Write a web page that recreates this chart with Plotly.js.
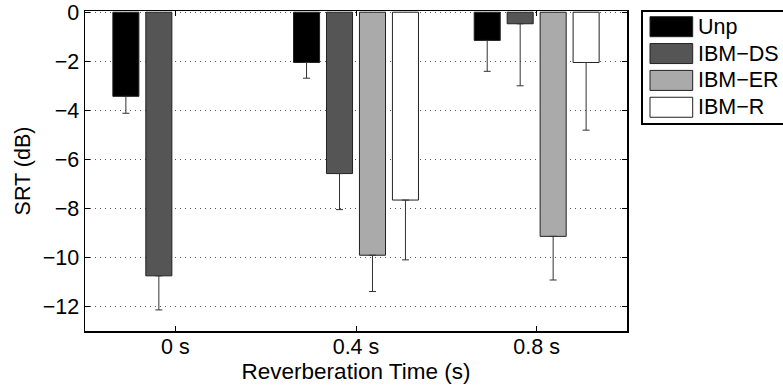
<!DOCTYPE html>
<html>
<head>
<meta charset="utf-8">
<script src="https://cdn.plot.ly/plotly-3.0.1.min.js"></script>
<style>html,body{margin:0;padding:0;background:#fff;}#chart{width:783px;height:388px;}</style>
</head>
<body>
<div id="chart"></div>
<script>
// Data
const categories = ['0 s', '0.4 s', '0.8 s'];
const seriesNames = ['Unp', 'IBM\u2212DS', 'IBM\u2212ER', 'IBM\u2212R'];
const seriesColors = ['#000000', '#555555', '#aaaaaa', '#ffffff'];
const unpValues   = [-3.43, -2.05, -1.15];
const dsValues    = [-10.75, -6.58, -0.47];
const erValues    = [null, -9.91, -9.14];
const rValues     = [null, -7.66, -2.05];
const unpErr = [0.69, 0.64, 1.26];
const dsErr  = [1.39, 1.47, 2.53];
const erErr  = [null, 1.48, 1.78];
const rErr   = [null, 2.44, 2.76];
const yTickVals = [0, -2, -4, -6, -8, -10, -12];

const allValues = [unpValues, dsValues, erValues, rValues];
const allErrs = [unpErr, dsErr, erErr, rErr];

const FONT = 'Liberation Sans, Arial, Helvetica, sans-serif';
const FS = 21.5;

const traces = allValues.map((vals, i) => ({
  type: 'bar',
  name: seriesNames[i],
  x: categories,
  y: vals,
  marker: {color: seriesColors[i], line: {color: '#222222', width: 1}},
  error_y: {
    type: 'data', symmetric: false,
    array: vals.map(v => v === null ? null : 0),
    arrayminus: allErrs[i],
    color: '#333333', thickness: 1, width: 3.5
  },
  showlegend: false
}));

// plot area in pixels -> paper coords helpers for the legend box
const L = 85, R = 627, T = 11, B = 331;
const px = x => (x - L) / (R - L);
const py = y => (B - y) / (B - T);

const shapes = [{
  type: 'rect', xref: 'paper', yref: 'paper',
  x0: px(642), x1: px(800), y0: py(11), y1: py(124),
  line: {color: '#000', width: 2}, fillcolor: '#fff', layer: 'above'
}];
const annotations = [];
seriesNames.forEach((n, i) => {
  const cy = 26.7 + 26.85 * i;
  shapes.push({
    type: 'rect', xref: 'paper', yref: 'paper',
    x0: px(650), x1: px(692.7), y0: py(cy - 10), y1: py(cy + 10),
    line: {color: '#222', width: 1}, fillcolor: seriesColors[i], layer: 'above'
  });
  annotations.push({
    xref: 'paper', yref: 'paper', x: px(695.5), y: py(cy),
    xanchor: 'left', yanchor: 'middle', text: n, showarrow: false,
    font: {family: FONT, size: FS, color: '#000'}
  });
});

const layout = {
  width: 783, height: 388,
  margin: {l: L, r: 783 - R, t: T, b: 388 - B},
  paper_bgcolor: '#fff', plot_bgcolor: '#fff',
  barmode: 'group', bargap: 0.27, bargroupgap: 0.21,
  font: {family: FONT, size: FS, color: '#000'},
  xaxis: {
    type: 'category', range: [-0.5, 2.5],
    showline: true, linecolor: '#000', linewidth: 1.5, mirror: 'ticks',
    ticks: 'inside', ticklen: 5, tickcolor: '#000',
    showgrid: false, zeroline: false, ticklabelstandoff: -4,
    tickfont: {family: FONT, size: FS},
    title: {text: 'Reverberation Time (s)', font: {family: FONT, size: 22.5}, standoff: 0}
  },
  yaxis: {
    range: [-13, 0.05], tickvals: yTickVals,
    showline: true, linecolor: '#000', linewidth: 1.5, mirror: 'ticks',
    ticks: 'inside', ticklen: 5, tickcolor: '#000',
    showgrid: true, gridcolor: '#555', griddash: '1px,4px', gridwidth: 1,
    zeroline: false,
    tickfont: {family: FONT, size: FS},
    title: {text: 'SRT (dB)', font: {family: FONT, size: FS}, standoff: 6}
  },
  shapes: shapes,
  annotations: annotations
};

Plotly.newPlot('chart', traces, layout, {displayModeBar: false, staticPlot: true});
</script>
</body>
</html>
